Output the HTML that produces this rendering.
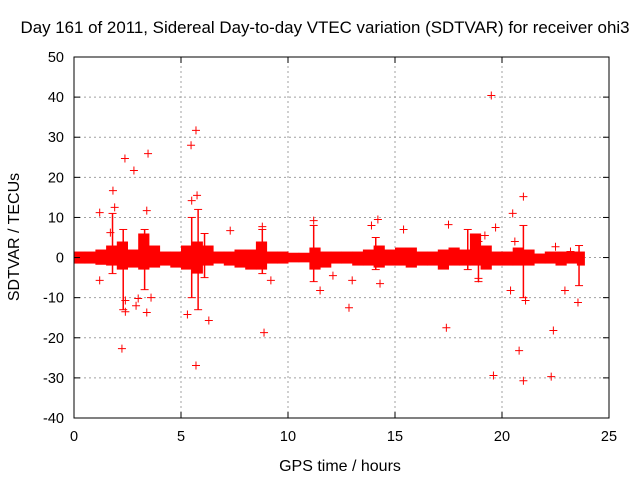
<!DOCTYPE html>
<html><head><meta charset="utf-8"><style>
html,body{margin:0;padding:0;background:#fff}
svg{display:block;font-family:"Liberation Sans",sans-serif}
</style></head><body>
<svg id="chart" width="640" height="480">
<text x="325" y="33" font-size="16.5" text-anchor="middle" textLength="609" lengthAdjust="spacingAndGlyphs">Day 161 of 2011, Sidereal Day-to-day VTEC variation (SDTVAR) for receiver ohi3</text>
<text x="340" y="471" font-size="16" text-anchor="middle">GPS time / hours</text>
<text transform="translate(19,237) rotate(-90)" font-size="16" text-anchor="middle">SDTVAR / TECUs</text>
<g id="grid"></g><g id="marks"></g><g id="axes"></g>
</svg>
<script>
const xTicks=[0,5,10,15,20,25];
const yTicks=[-40,-30,-20,-10,0,10,20,30,40,50];
const binStart=[0,0.5,1,1.5,2,2.5,3,3.5,4,4.5,5,5.5,6,6.5,7,7.5,8,8.5,9,9.5,10,10.5,11,11.5,12,12.5,13,13.5,14,14.5,15,15.5,16,16.5,17,17.5,18,18.5,19,19.5,20,20.5,21,21.5,22,22.5,23,23.5];
const bandLow=[-1.5,-1.5,-1.8,-2,-3,-2.5,-3,-2.5,-2,-2.5,-3,-4,-2,-1.5,-2,-2.5,-3,-3,-1.5,-1.5,-1.2,-1.2,-3,-2.5,-1.5,-1.5,-2,-2,-2.5,-2,-2,-2.5,-2,-2,-3,-2,-2,-2,-3,-2,-2,-2,-2,-1.5,-1.5,-2,-1.5,-2];
const bandHigh=[1.5,1.5,2,3,4,2,6,3,1.5,1.5,3,4,3,1.5,1.5,2,2,4,1.5,1.5,1.2,1.2,2.5,1.5,1.5,1.5,1.5,2,3,2,2.5,2.5,1.5,1.5,2,2.5,2,6,3,1.5,1.5,2.5,2,1,1.5,1.5,1.5,1.5];
const spikeX=[1.8,2.3,3.3,5.5,5.8,6.1,8.8,11.2,14.1,18.4,18.9,21.0,23.6];
const spikeLo=[-4,-13,-8,-10,-13,-5,-4,-6,-3,-3,-6,-10,-7];
const spikeHi=[11,7,7,10,12,6,7,8,5,7,4,8,3];
const outX=[1.82,2.38,2.8,3.46,2.24,5.5,5.7,5.47,5.75,5.7,6.3,5.3,8.88,12.85,17.4,19.5,19.6,21,20.8,21,22.4,22.3,23.55,22.94,3.4,1.2,1.9,1.7,7.3,8.8,11.2,14.2,13.9,15.4,17.5,20.5,19.7,19.2,20.6,23.2,22.5,1.2,2.4,3,3.6,3.4,2.4,2.9,9.2,11.5,13,14.3,12.1,18.9,20.4,21.1];
const outY=[16.7,24.7,21.7,25.9,-22.7,14.2,31.7,28,15.5,-26.9,-15.7,-14.2,-18.7,-12.5,-17.5,40.4,-29.4,15.2,-23.2,-30.7,-18.2,-29.7,-11.2,-8.2,11.7,11.2,12.5,6.2,6.7,7.7,9.2,9.5,8,7,8.2,11,7.5,5.5,4,1.5,2.7,-5.7,-10.7,-10.2,-10,-13.7,-13.5,-12,-5.7,-8.2,-5.7,-6.5,-4.5,-5.2,-8.2,-10.7];
const X0=74,X1=609,Y0=418,Y1=57;
const sx=v=>X0+(v-0)/(25-0)*(X1-X0);
const sy=v=>Y0-(v+40)/90*(Y0-Y1);
const NS='http://www.w3.org/2000/svg';
function mk(p,t,a){const e=document.createElementNS(NS,t);for(const k in a)e.setAttribute(k,a[k]);p.appendChild(e);return e;}
const grid=document.getElementById('grid'),marks=document.getElementById('marks'),axes=document.getElementById('axes');
xTicks.forEach(t=>{const x=sx(t);
 if(t>0&&t<25){const g=mk(grid,'line',{x1:x,x2:x,y1:Y0,y2:Y1,stroke:'#a0a0a0','stroke-dasharray':'2,3'});
 
 }
 mk(axes,'line',{x1:x,x2:x,y1:Y0,y2:Y0-6,stroke:'#000'});mk(axes,'line',{x1:x,x2:x,y1:Y1,y2:Y1+6,stroke:'#000'});
 const l=mk(axes,'text',{x:x,y:Y0+23,'font-size':14.5,'text-anchor':'middle'});l.textContent=t;
 
 });
yTicks.forEach(t=>{const y=sy(t);
 if(t>-40&&t<50){const g=mk(grid,'line',{x1:X0,x2:X1,y1:y,y2:y,stroke:'#a0a0a0','stroke-dasharray':'2,3'});
 
 }
 mk(axes,'line',{x1:X0,x2:X0+6,y1:y,y2:y,stroke:'#000'});mk(axes,'line',{x1:X1,x2:X1-6,y1:y,y2:y,stroke:'#000'});
 const l=mk(axes,'text',{x:X0-10,y:y+5,'font-size':14.5,'text-anchor':'end'});l.textContent=t;
 
 });
const fr=mk(axes,'rect',{x:X0,y:Y1,width:X1-X0,height:Y0-Y1,fill:'none',stroke:'#000'});


binStart.forEach((b,i)=>{const end=Math.min(b+0.5,23.85);
 const r=mk(marks,'rect',{x:sx(b),y:sy(bandHigh[i]),width:sx(end)-sx(b)+0.5,height:sy(bandLow[i])-sy(bandHigh[i]),fill:'#ff0000'});
 
 });
spikeX.forEach((v,i)=>{const x=sx(v);
 const l=mk(marks,'line',{x1:x,x2:x,y1:sy(spikeLo[i]),y2:sy(spikeHi[i]),stroke:'#ff0000','stroke-width':1.5});
 
 
 [spikeLo[i],spikeHi[i]].forEach(e=>{const y=sy(e);
  const p=mk(marks,'path',{d:`M${x-4} ${y}H${x+4}`,stroke:'#ff0000'});
  
  });});
outX.forEach((v,i)=>{const x=sx(v),y=sy(outY[i]);
 const p=mk(marks,'path',{d:`M${x-4} ${y}H${x+4}M${x} ${y-4}V${y+4}`,stroke:'#ff0000','stroke-width':1});
 
 });
</script>
</body></html>
